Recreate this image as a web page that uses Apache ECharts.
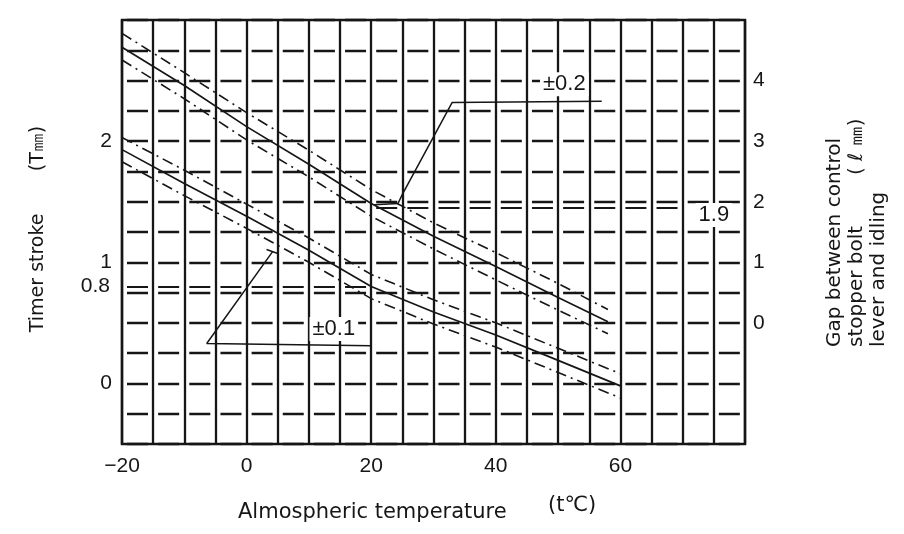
<!DOCTYPE html>
<html><head><meta charset="utf-8">
<script src="https://cdn.jsdelivr.net/npm/echarts@6/dist/echarts.min.js"></script>
<style>html,body{margin:0;padding:0;background:#fff}#c{width:904px;height:534px}</style>
</head><body><div id="c"></div>
<script>
// ---- data ----
const xTickLabels = [-20, 0, 20, 40, 60];          // atmospheric temperature (°C)
const leftTickLabels = [0, 1, 2];                   // timer stroke T (mm)
const rightTickLabels = [0, 1, 2, 3, 4];            // gap ℓ (mm)

// gap between control lever and idling stopper bolt (right axis, ℓ mm)
const gapTemps  = [-20, -10, 0, 10, 20, 30, 40, 50, 58];
const gapCenter = [4.55, 3.92, 3.24, 2.62, 1.97, 1.43, 0.93, 0.42, 0.02];
const gapUpper  = [4.78, 4.13, 3.47, 2.85, 2.20, 1.65, 1.16, 0.65, 0.22];
const gapLower  = [4.34, 3.70, 3.02, 2.41, 1.76, 1.22, 0.71, 0.21, -0.18];

// timer stroke (left axis, T mm)
const timerTemps  = [-20, -10, 0, 10, 20, 30, 40, 50, 60];
const timerCenter = [1.93, 1.65, 1.38, 1.10, 0.80, 0.59, 0.40, 0.19, -0.02];
const timerUpper  = [2.03, 1.76, 1.48, 1.20, 0.90, 0.69, 0.50, 0.29, 0.08];
const timerLower  = [1.83, 1.55, 1.28, 1.00, 0.70, 0.49, 0.30, 0.09, -0.12];

// reference values and tolerances
const timerRef = 0.8, timerRefSpan = [-20, 20];
const gapRef = 1.9, gapRefSpan = [20, 70];
const timerTolText = '±0.1', gapTolText = '±0.2';
const timerTolAt = [14, 0.45];      // (°C, T)
const gapTolAt = [51, 3.94];        // (°C, ℓ)
const gapRefTextAt = [75, 1.78];    // (°C, ℓ)
// leader lines (°C, value)
const timerLeader = [[4.2, 1.09], [-6.4, 0.33], [20, 0.31]];
const timerLeaderCap = [[3.2, 1.105], [4.9, 1.075]];
const gapLeader = [[20.5, 1.95], [24.3, 1.97], [25, 2.12], [33, 3.64], [57, 3.66]];

// ---- chart ----
const INK = '#161616';
const FONT = 'Liberation Sans';
const zip = (xs, ys) => xs.map((x, i) => [x, ys[i]]);
const dashGrid = { color: INK, width: 2.3, type: [21, 10.15], dashOffset: 26.15 };
const bandStyle = { color: INK, width: 1.6, type: [11, 5, 2, 5] };
const solidStyle = { color: INK, width: 1.7 };

function lineSeries(data, yIdx, style, extra) {
  return Object.assign({ type: 'line', data, yAxisIndex: yIdx, symbol: 'none', silent: true,
    lineStyle: style, animation: false }, extra || {});
}

const chart = echarts.init(document.getElementById('c'), null, { renderer: 'canvas' });
chart.setOption({
  animation: false,
  backgroundColor: '#fff',
  grid: { left: 122, right: 159, top: 20, bottom: 90, show: true, borderColor: INK, borderWidth: 2.5 },
  xAxis: {
    type: 'value', min: -20, max: 80, interval: 5,
    axisLine: { show: false }, axisTick: { show: false },
    axisLabel: { margin: 12, fontFamily: FONT, fontSize: 21, color: INK,
      formatter: v => xTickLabels.includes(v) ? (v < 0 ? '\u2212' + Math.abs(v) : String(v)) : '' },
    splitLine: { show: true, lineStyle: { color: INK, width: 2.3 } }
  },
  yAxis: [{
    type: 'value', min: -0.5, max: 3, interval: 0.25, position: 'left',
    axisLine: { show: false }, axisTick: { show: false },
    axisLabel: { margin: 10, fontFamily: FONT, fontSize: 21, color: INK,
      formatter: v => leftTickLabels.includes(v) ? String(v) : '' },
    splitLine: { show: true, lineStyle: dashGrid }
  }, {
    type: 'value', min: -2, max: 5, interval: 1, position: 'right',
    axisLine: { show: false }, axisTick: { show: false },
    axisLabel: { margin: 8, fontFamily: FONT, fontSize: 21, color: INK,
      formatter: v => rightTickLabels.includes(v) ? String(v) : '' },
    splitLine: { show: false }
  }],
  graphic: [
    { type: 'text', x: 38, y: 229, rotation: Math.PI / 2,
      style: { text: 'Timer stroke       (T\u339C)', font: '19px "DejaVu Sans"', fill: INK, textAlign: 'center', textVerticalAlign: 'middle' } },
    { type: 'text', x: 238, y: 513,
      style: { text: 'Almospheric temperature', font: '21px "DejaVu Sans"', fill: INK, textAlign: 'left', textVerticalAlign: 'middle' } },
    { type: 'text', x: 548, y: 506,
      style: { text: '(t\u2103)', font: '21px "DejaVu Sans"', fill: INK, textAlign: 'left', textVerticalAlign: 'middle' } },
    { type: 'text', x: 857, y: 347, rotation: Math.PI / 2,
      style: { text: 'Gap between control\nstopper bolt        ( \u2113 \u339C)\nlever and idling', font: '20px "DejaVu Sans"', lineHeight: 22, fill: INK, textAlign: 'left', textVerticalAlign: 'middle' } }
  ],
  series: [
    lineSeries(zip(gapTemps, gapUpper), 1, bandStyle),
    lineSeries(zip(gapTemps, gapLower), 1, bandStyle),
    lineSeries(zip(gapTemps, gapCenter), 1, solidStyle, {
      markLine: { silent: true, symbol: 'none', animation: false,
        lineStyle: { color: INK, width: 2, type: [21, 10.15], dashOffset: 26.15 },
        label: { show: false },
        data: [[{ coord: [gapRefSpan[0], gapRef] }, { coord: [gapRefSpan[1], gapRef] }]] }
    }),
    lineSeries(zip(timerTemps, timerUpper), 0, bandStyle),
    lineSeries(zip(timerTemps, timerLower), 0, bandStyle),
    lineSeries(zip(timerTemps, timerCenter), 0, solidStyle, {
      markLine: { silent: true, symbol: 'none', animation: false,
        lineStyle: { color: INK, width: 2, type: [21, 10.15], dashOffset: 26.15 },
        label: { show: true, position: 'start', distance: 12, formatter: String(timerRef),
          fontFamily: FONT, fontSize: 21, color: INK },
        data: [[{ coord: [timerRefSpan[0], timerRef] }, { coord: [timerRefSpan[1], timerRef] }]] }
    }),
    lineSeries(timerLeader, 0, { color: INK, width: 1.5 }),
    lineSeries(timerLeaderCap, 0, { color: INK, width: 1.5 }),
    lineSeries(gapLeader, 1, { color: INK, width: 1.5 }),
    lineSeries([], 0, solidStyle, { z: 10,
      markPoint: { symbol: 'circle', symbolSize: 1, itemStyle: { color: 'rgba(0,0,0,0)' }, animation: false,
        label: { show: true, position: 'inside', fontFamily: FONT, fontSize: 22, color: INK,
          backgroundColor: '#fff', padding: [1, 3], formatter: p => p.name },
        data: [{ name: timerTolText, coord: timerTolAt }] } }),
    lineSeries([], 1, solidStyle, { z: 10,
      markPoint: { symbol: 'circle', symbolSize: 1, itemStyle: { color: 'rgba(0,0,0,0)' }, animation: false,
        label: { show: true, position: 'inside', fontFamily: FONT, fontSize: 22, color: INK,
          backgroundColor: '#fff', padding: [1, 3], formatter: p => p.name },
        data: [{ name: gapTolText, coord: gapTolAt }, { name: String(gapRef), coord: gapRefTextAt }] } })
  ]
});
</script></body></html>
